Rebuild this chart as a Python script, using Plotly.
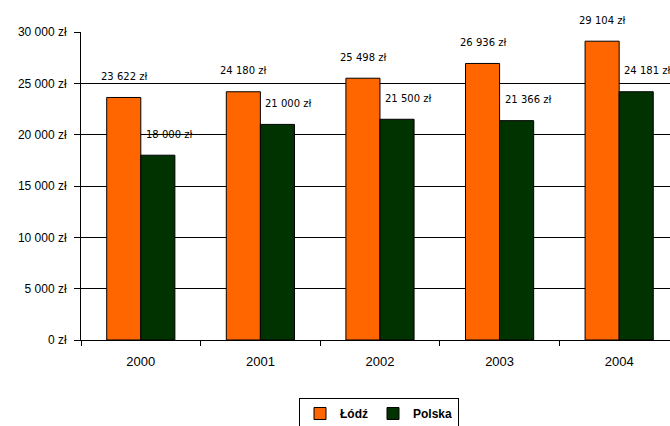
import plotly.graph_objects as go

years = ["2000", "2001", "2002", "2003", "2004"]
lodz = [23622, 24180, 25498, 26936, 29104]
polska = [18000, 21000, 21500, 21366, 24181]
lodz_labels = ["23 622 zł", "24 180 zł", "25 498 zł", "26 936 zł", "29 104 zł"]
polska_labels = ["18 000 zł", "21 000 zł", "21 500 zł", "21 366 zł", "24 181 zł"]
y_ticks = [0, 5000, 10000, 15000, 20000, 25000, 30000]
y_tick_text = ["0 zł", "5 000 zł", "10 000 zł", "15 000 zł", "20 000 zł", "25 000 zł", "30 000 zł"]

ORANGE = "#FF6600"
GREEN = "#003300"

fig = go.Figure()
fig.add_trace(go.Bar(x=years, y=lodz, name="Łódź", marker=dict(color=ORANGE, line=dict(color="black", width=1))))
fig.add_trace(go.Bar(x=years, y=polska, name="Polska", marker=dict(color=GREEN, line=dict(color="black", width=1))))

label_font = dict(family="DejaVu Sans", size=10, color="black")
annotations = []
for i, (v, t) in enumerate(zip(lodz, lodz_labels)):
    annotations.append(dict(x=i, y=v, xref="x", yref="y", text=t, showarrow=False, xshift=-17, yshift=21,
                            yanchor="middle", font=label_font))
for i, (v, t) in enumerate(zip(polska, polska_labels)):
    annotations.append(dict(x=i, y=v, xref="x", yref="y", text=t, showarrow=False, xshift=28, yshift=21,
                            yanchor="middle", font=label_font))

fig.update_layout(
    width=670, height=426,
    margin=dict(l=81, r=0, t=32, b=86, pad=0),
    paper_bgcolor="white", plot_bgcolor="white",
    barmode="group", bargap=0.43, bargroupgap=0,
    font=dict(family="Liberation Sans, Arial", size=12, color="black"),
    annotations=annotations,
    showlegend=True,
    legend=dict(orientation="h", xref="container", yref="container", x=379 / 670, xanchor="center",
                y=1 - 398 / 426, yanchor="top", bordercolor="black", borderwidth=1,
                font=dict(family="Liberation Sans, Arial", size=12, color="black", weight="bold"),
                itemwidth=30, tracegroupgap=0),
)
fig.update_xaxes(range=[-0.5, 4.425], showline=True, linecolor="black", linewidth=1,
                 ticks="outside", tickson="boundaries", ticklen=5, tickcolor="black",
                 showgrid=False, tickfont=dict(size=13), ticklabelstandoff=9)
fig.update_yaxes(range=[0, 30000], tickvals=y_ticks, ticktext=y_tick_text,
                 showline=True, linecolor="black", linewidth=1,
                 ticks="outside", ticklen=6, tickcolor="black",
                 showgrid=True, gridcolor="black", gridwidth=1, zeroline=False,
                 tickfont=dict(size=12), ticklabelstandoff=5)

fig.write_html("out.html")
